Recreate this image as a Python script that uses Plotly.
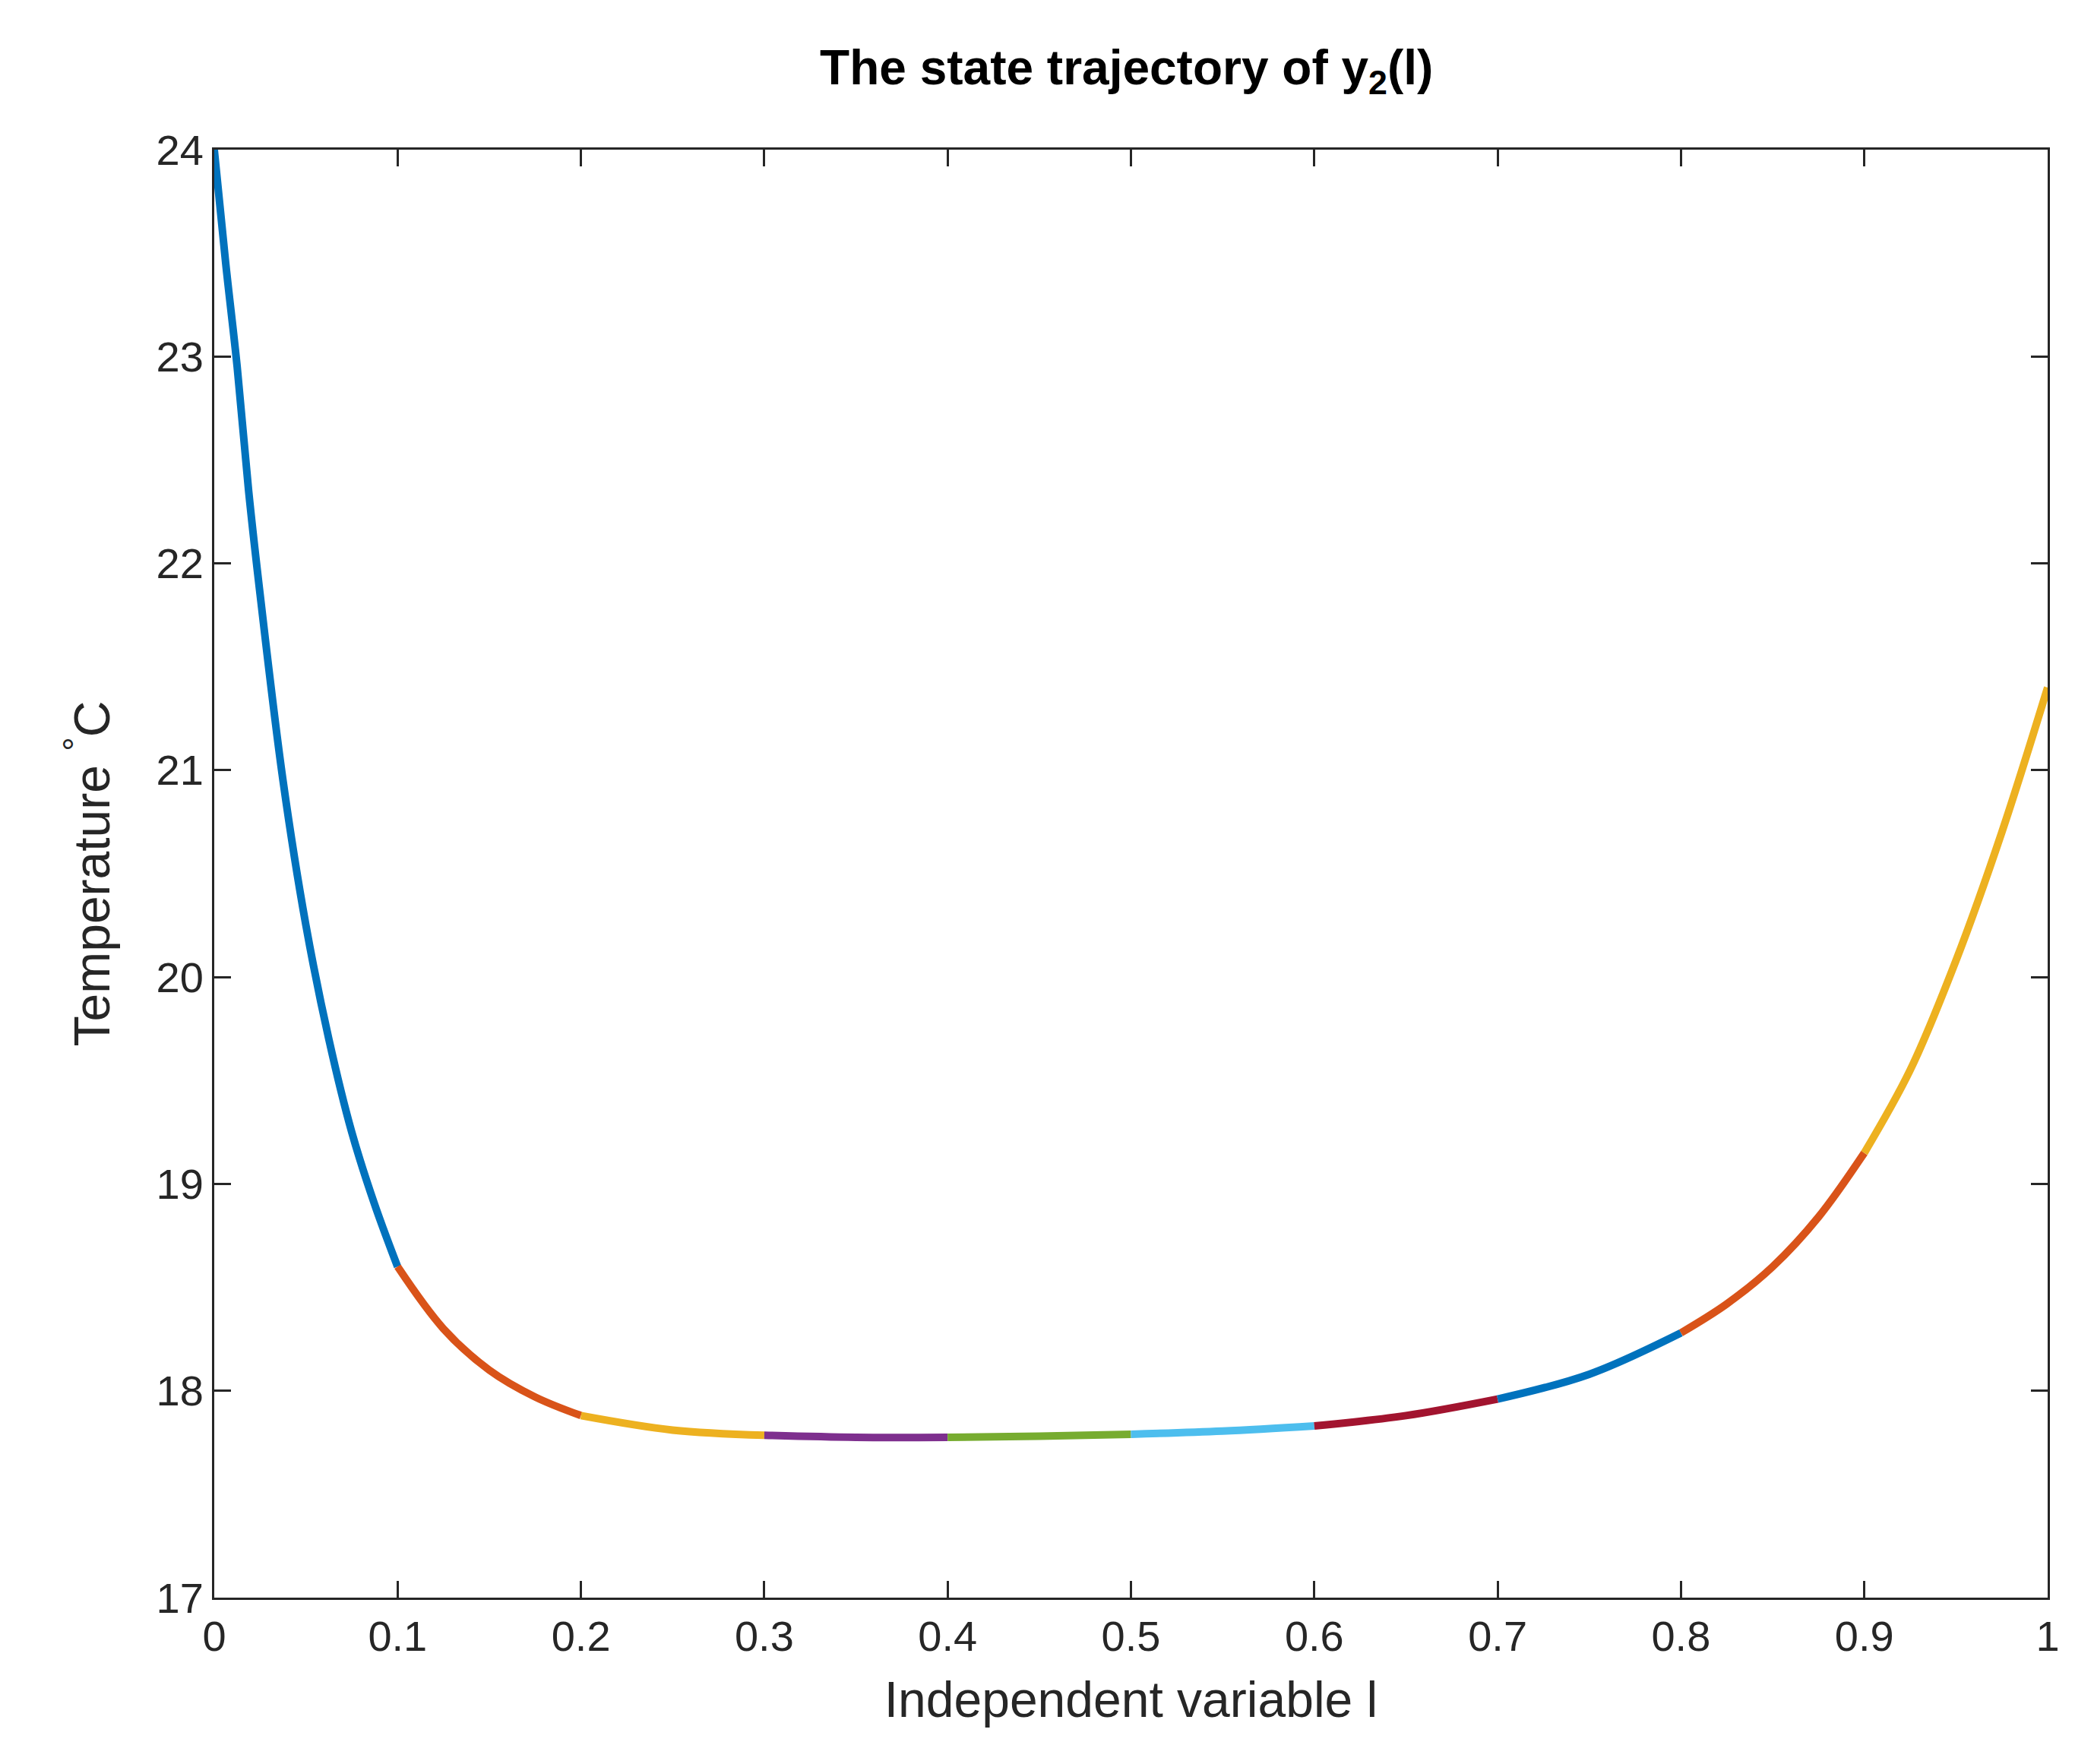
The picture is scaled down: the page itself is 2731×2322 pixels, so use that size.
import plotly.graph_objects as go

x_vals = [0, 0.00625, 0.0125, 0.01875, 0.025, 0.0375, 0.05, 0.0625, 0.075, 0.0875, 0.1, 0.125, 0.15, 0.175, 0.2, 0.25, 0.3, 0.35, 0.4, 0.45, 0.5, 0.55, 0.6, 0.65, 0.7, 0.75, 0.8, 0.825, 0.85, 0.875, 0.9, 0.925, 0.95, 0.975, 1.0]
y_vals = [24.0, 23.45, 22.95, 22.35, 21.85, 20.95, 20.25, 19.7, 19.25, 18.9, 18.6, 18.3, 18.1, 17.97, 17.88, 17.81, 17.785, 17.775, 17.775, 17.78, 17.79, 17.805, 17.83, 17.88, 17.96, 18.08, 18.28, 18.42, 18.6, 18.84, 19.15, 19.55, 20.08, 20.7, 21.4]
colors = ["#0072BD", "#D95319", "#EDB120", "#7E2F8E", "#77AC30", "#4DBEEE", "#A2142F", "#0072BD", "#D95319", "#EDB120"]
seg_edges = [0, 0.1, 0.2, 0.3, 0.4, 0.5, 0.6, 0.7, 0.8, 0.9, 1.0]

fig = go.Figure()
for i, c in enumerate(colors):
    lo, hi = seg_edges[i], seg_edges[i + 1]
    xs = [x for x in x_vals if lo - 1e-9 <= x <= hi + 1e-9]
    ys = [y for x, y in zip(x_vals, y_vals) if lo - 1e-9 <= x <= hi + 1e-9]
    fig.add_trace(go.Scatter(x=xs, y=ys, mode="lines", line=dict(color=c, width=10, shape="spline", smoothing=1.0), showlegend=False))

ax = dict(showgrid=False, zeroline=False, showline=True, linecolor="#262626", linewidth=3, mirror="ticks",
          ticks="inside", ticklen=22, tickwidth=3, tickcolor="#262626",
          tickfont=dict(size=56, color="#262626", family="Liberation Sans"))
fig.update_xaxes(range=[0, 1], tickvals=[i / 10 for i in range(11)],
                 ticktext=["0", "0.1", "0.2", "0.3", "0.4", "0.5", "0.6", "0.7", "0.8", "0.9", "1"],
                 title=dict(text="Independent variable l", standoff=30, font=dict(size=66, color="#262626", family="Liberation Sans")), **ax)
fig.update_yaxes(range=[17, 24], dtick=1,
                 title=dict(text="Temperature <sup>°</sup>C", standoff=40, font=dict(size=66, color="#262626", family="Liberation Sans")), **ax)
fig.update_layout(
    width=2731, height=2322, plot_bgcolor="white", paper_bgcolor="white",
    margin=dict(l=274, r=44, t=189, b=227),
    title=dict(text="<b>The state trajectory of y<sub>2</sub>(l)</b>", x=0.54, xanchor="center", y=0.975,
               font=dict(size=64, color="black", family="Liberation Sans")),
)
fig.write_html("out.html")
